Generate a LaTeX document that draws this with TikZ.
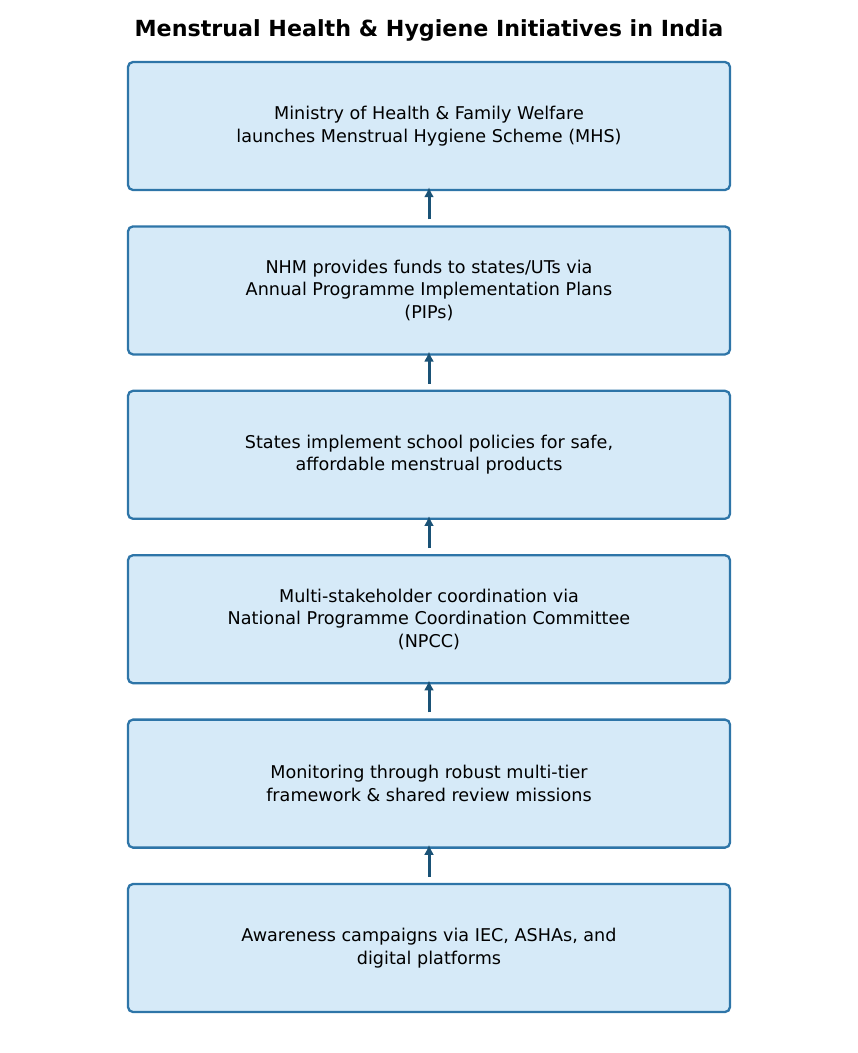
\documentclass[tikz,border=0pt]{standalone}
\usepackage{fontspec}
\setmainfont{DejaVu Sans}
\usepackage{tikz}
\definecolor{boxfill}{HTML}{D6EAF8}
\definecolor{boxline}{HTML}{2E75A8}
\definecolor{arrowcol}{HTML}{1A5276}
\tikzstyle{stepbox}=[rectangle, rounded corners=5pt, draw=boxline, fill=boxfill, line width=2.3pt, minimum width=602pt, minimum height=128pt, align=center, font=\fontsize{17.6}{22.5}\selectfont]
\tikzstyle{uparrow}=[draw=arrowcol, line width=3pt, -{Latex[length=10pt,width=10pt]}, shorten <=6pt, shorten >=-4pt]
\usetikzlibrary{arrows.meta}

\begin{document}
\begin{tikzpicture}[x=1pt, y=1pt]
  \useasboundingbox (0,0) rectangle (858,-1053);
  \node (title) at (429,-30) {\fontsize{22.2}{26}\selectfont\bfseries Menstrual Health \& Hygiene Initiatives in India};
  \foreach \t [count=\i] in {{Ministry of Health \& Family Welfare\\launches Menstrual Hygiene Scheme (MHS)},
                             {NHM provides funds to states/UTs via\\Annual Programme Implementation Plans\\(PIPs)},
                             {States implement school policies for safe,\\affordable menstrual products},
                             {Multi-stakeholder coordination via\\National Programme Coordination Committee\\(NPCC)},
                             {Monitoring through robust multi-tier\\framework \& shared review missions},
                             {Awareness campaigns via IEC, ASHAs, and\\digital platforms}}
    \node[stepbox] (b\i) at (429, -126-164.4*\i+164.4) {\t};
  \foreach \i [evaluate=\i as \j using int(\i+1)] in {1,...,5}
    \draw[uparrow] (b\j.north) -- (b\i.south);
\end{tikzpicture}
\end{document}
